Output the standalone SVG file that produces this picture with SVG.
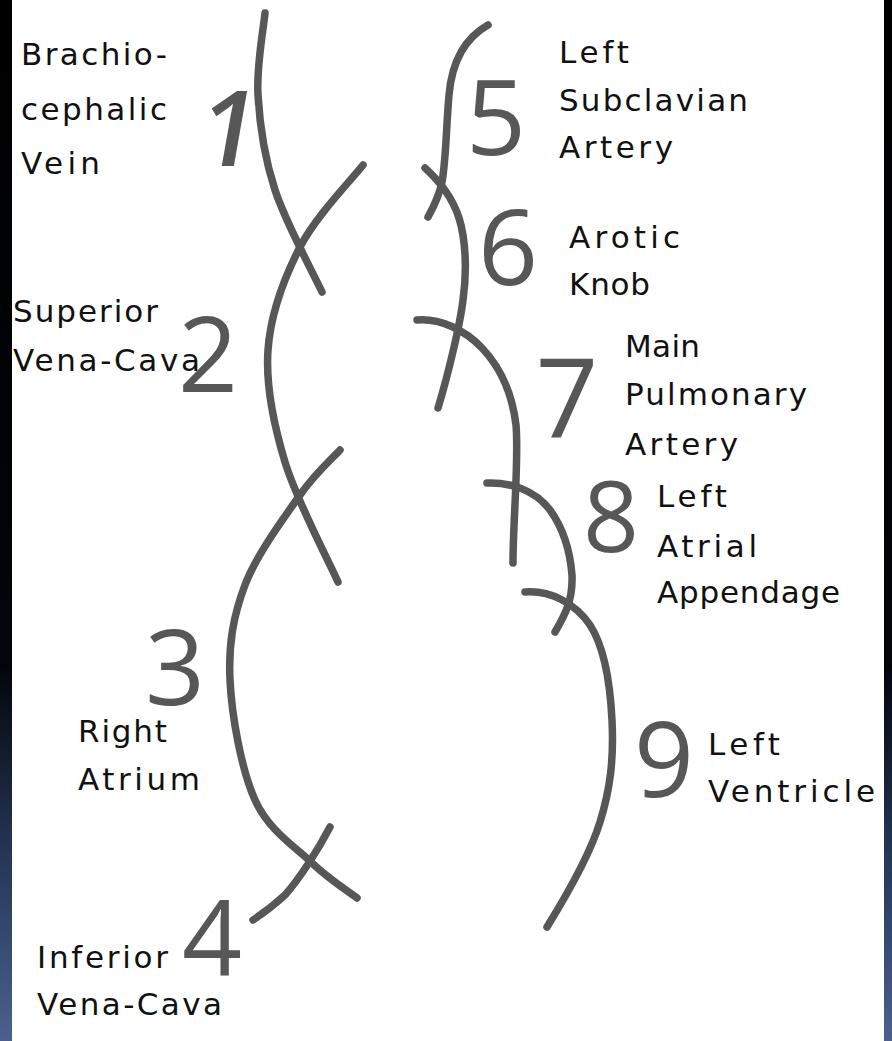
<svg xmlns="http://www.w3.org/2000/svg" width="892" height="1041" viewBox="0 0 892 1041">
  <defs>
    <linearGradient id="edge" x1="0" y1="0" x2="0" y2="1">
      <stop offset="0" stop-color="#000000"/>
      <stop offset="0.64" stop-color="#03050a"/>
      <stop offset="0.82" stop-color="#253656"/>
      <stop offset="1" stop-color="#4a6190"/>
    </linearGradient>
    <style>
      .curve { fill: none; stroke: #575757; stroke-width: 7.5; stroke-linecap: round; stroke-linejoin: round; }
      .num { font-family: "Open Sans", "DejaVu Sans", sans-serif; font-size: 105px; font-weight: 500; fill: #575757; text-anchor: middle; }
      .lbl { font-family: "DejaVu Sans", "Liberation Sans", sans-serif; font-size: 31px; fill: #111111; }
    </style>
  </defs>

  <!-- side frame and white page -->
  <rect x="0" y="0" width="892" height="1041" fill="url(#edge)"/>
  <rect x="12" y="0" width="872" height="1041" fill="#ffffff"/>

  <!-- vessel outline strokes -->
  <g id="connectors">
    <path id="seg-brachiocephalic" class="curve" d="M265,13 C263.8,26.7 256.3,65.5 258,95 C259.7,124.5 264.3,157.2 275,190 C285.7,222.8 314.2,275 322,292"/>
    <path id="seg-svc" class="curve" d="M363,165 C352.5,178.7 315.8,216.2 300,247 C284.2,277.8 270.5,314.2 268,350 C265.5,385.8 273.3,423.3 285,462 C296.7,500.7 329.2,562 338,582"/>
    <path id="seg-right-atrium" class="curve" d="M340,450 C333.3,457.5 315.8,472.5 300,495 C284.2,517.5 256.7,554.2 245,585 C233.3,615.8 228.3,644.2 230,680 C231.7,715.8 241.3,769.5 255,800 C268.7,830.5 295,846.7 312,863 C329,879.3 349.5,892.2 357,898"/>
    <path id="seg-ivc" class="curve" d="M330,827 C318,850 300,878 285,895 C272,907 262,914 253,920"/>
    <path id="seg-subclavian" class="curve" d="M488,25 C465,38 452,60 449,95 C446,130 446,160 442,182 C439,197 433,208 428,217"/>
    <path id="seg-aortic-knob" class="curve" d="M425,168 C436,178 452,196 459,218 C466,240 467,272 463,300 C460,325 448,375 438,408"/>
    <path id="seg-pulmonary" class="curve" d="M417,320 C440,318 465,330 482,348 C500,367 512,392 516,425 C519,460 513,520 513,563"/>
    <path id="seg-atrial-appendage" class="curve" d="M487,483 C510,482 535,490 550,510 C563,528 570,550 572,575 C573,600 565,615 555,632"/>
    <path id="seg-left-ventricle" class="curve" d="M525,592 C550,590 575,603 590,625 C603,645 610,680 612,720 C614,760 610,790 600,822 C590,855 568,893 547,927"/>
  </g>

  <g id="node-1">
    <text class="num" x="224" y="166" style="font-weight:600" transform="skewX(-10) translate(29,0)">1</text>
    <text class="lbl" x="21" y="65" textLength="146" lengthAdjust="spacing">Brachio-</text>
    <text class="lbl" x="21" y="120" textLength="146" lengthAdjust="spacing">cephalic</text>
    <text class="lbl" x="21" y="174" textLength="79" lengthAdjust="spacing">Vein</text>
  </g>

  <g id="node-2">
    <text class="num" x="208" y="392">2</text>
    <text class="lbl" x="13" y="322" textLength="145" lengthAdjust="spacing">Superior</text>
    <text class="lbl" x="13" y="371" textLength="187" lengthAdjust="spacing">Vena-Cava</text>
  </g>

  <g id="node-3">
    <text class="num" x="175" y="705">3</text>
    <text class="lbl" x="78" y="742" textLength="89" lengthAdjust="spacing">Right</text>
    <text class="lbl" x="78" y="790" textLength="122" lengthAdjust="spacing">Atrium</text>
  </g>

  <g id="node-4">
    <text class="num" x="212" y="975">4</text>
    <text class="lbl" x="37" y="968" textLength="131" lengthAdjust="spacing">Inferior</text>
    <text class="lbl" x="37" y="1015" textLength="185" lengthAdjust="spacing">Vena-Cava</text>
  </g>

  <g id="node-5">
    <text class="num" x="496" y="155">5</text>
    <text class="lbl" x="559" y="63" textLength="70" lengthAdjust="spacing">Left</text>
    <text class="lbl" x="559" y="111" textLength="189" lengthAdjust="spacing">Subclavian</text>
    <text class="lbl" x="559" y="158" textLength="114" lengthAdjust="spacing">Artery</text>
  </g>

  <g id="node-6">
    <text class="num" x="508" y="285">6</text>
    <text class="lbl" x="569" y="248" textLength="111" lengthAdjust="spacing">Arotic</text>
    <text class="lbl" x="569" y="295" textLength="81" lengthAdjust="spacing">Knob</text>
  </g>

  <g id="node-7">
    <text class="num" x="567" y="437" style="font-size:110px">7</text>
    <text class="lbl" x="625" y="357" textLength="75" lengthAdjust="spacing">Main</text>
    <text class="lbl" x="625" y="405" textLength="182" lengthAdjust="spacing">Pulmonary</text>
    <text class="lbl" x="625" y="455" textLength="113" lengthAdjust="spacing">Artery</text>
  </g>

  <g id="node-8">
    <text class="num" x="611" y="552" style="font-size:98px">8</text>
    <text class="lbl" x="657" y="507" textLength="70" lengthAdjust="spacing">Left</text>
    <text class="lbl" x="657" y="557" textLength="100" lengthAdjust="spacing">Atrial</text>
    <text class="lbl" x="657" y="603" textLength="183" lengthAdjust="spacing">Appendage</text>
  </g>

  <g id="node-9">
    <text class="num" x="664" y="797">9</text>
    <text class="lbl" x="708" y="755" textLength="72" lengthAdjust="spacing">Left</text>
    <text class="lbl" x="708" y="802" textLength="167" lengthAdjust="spacing">Ventricle</text>
  </g>
</svg>
